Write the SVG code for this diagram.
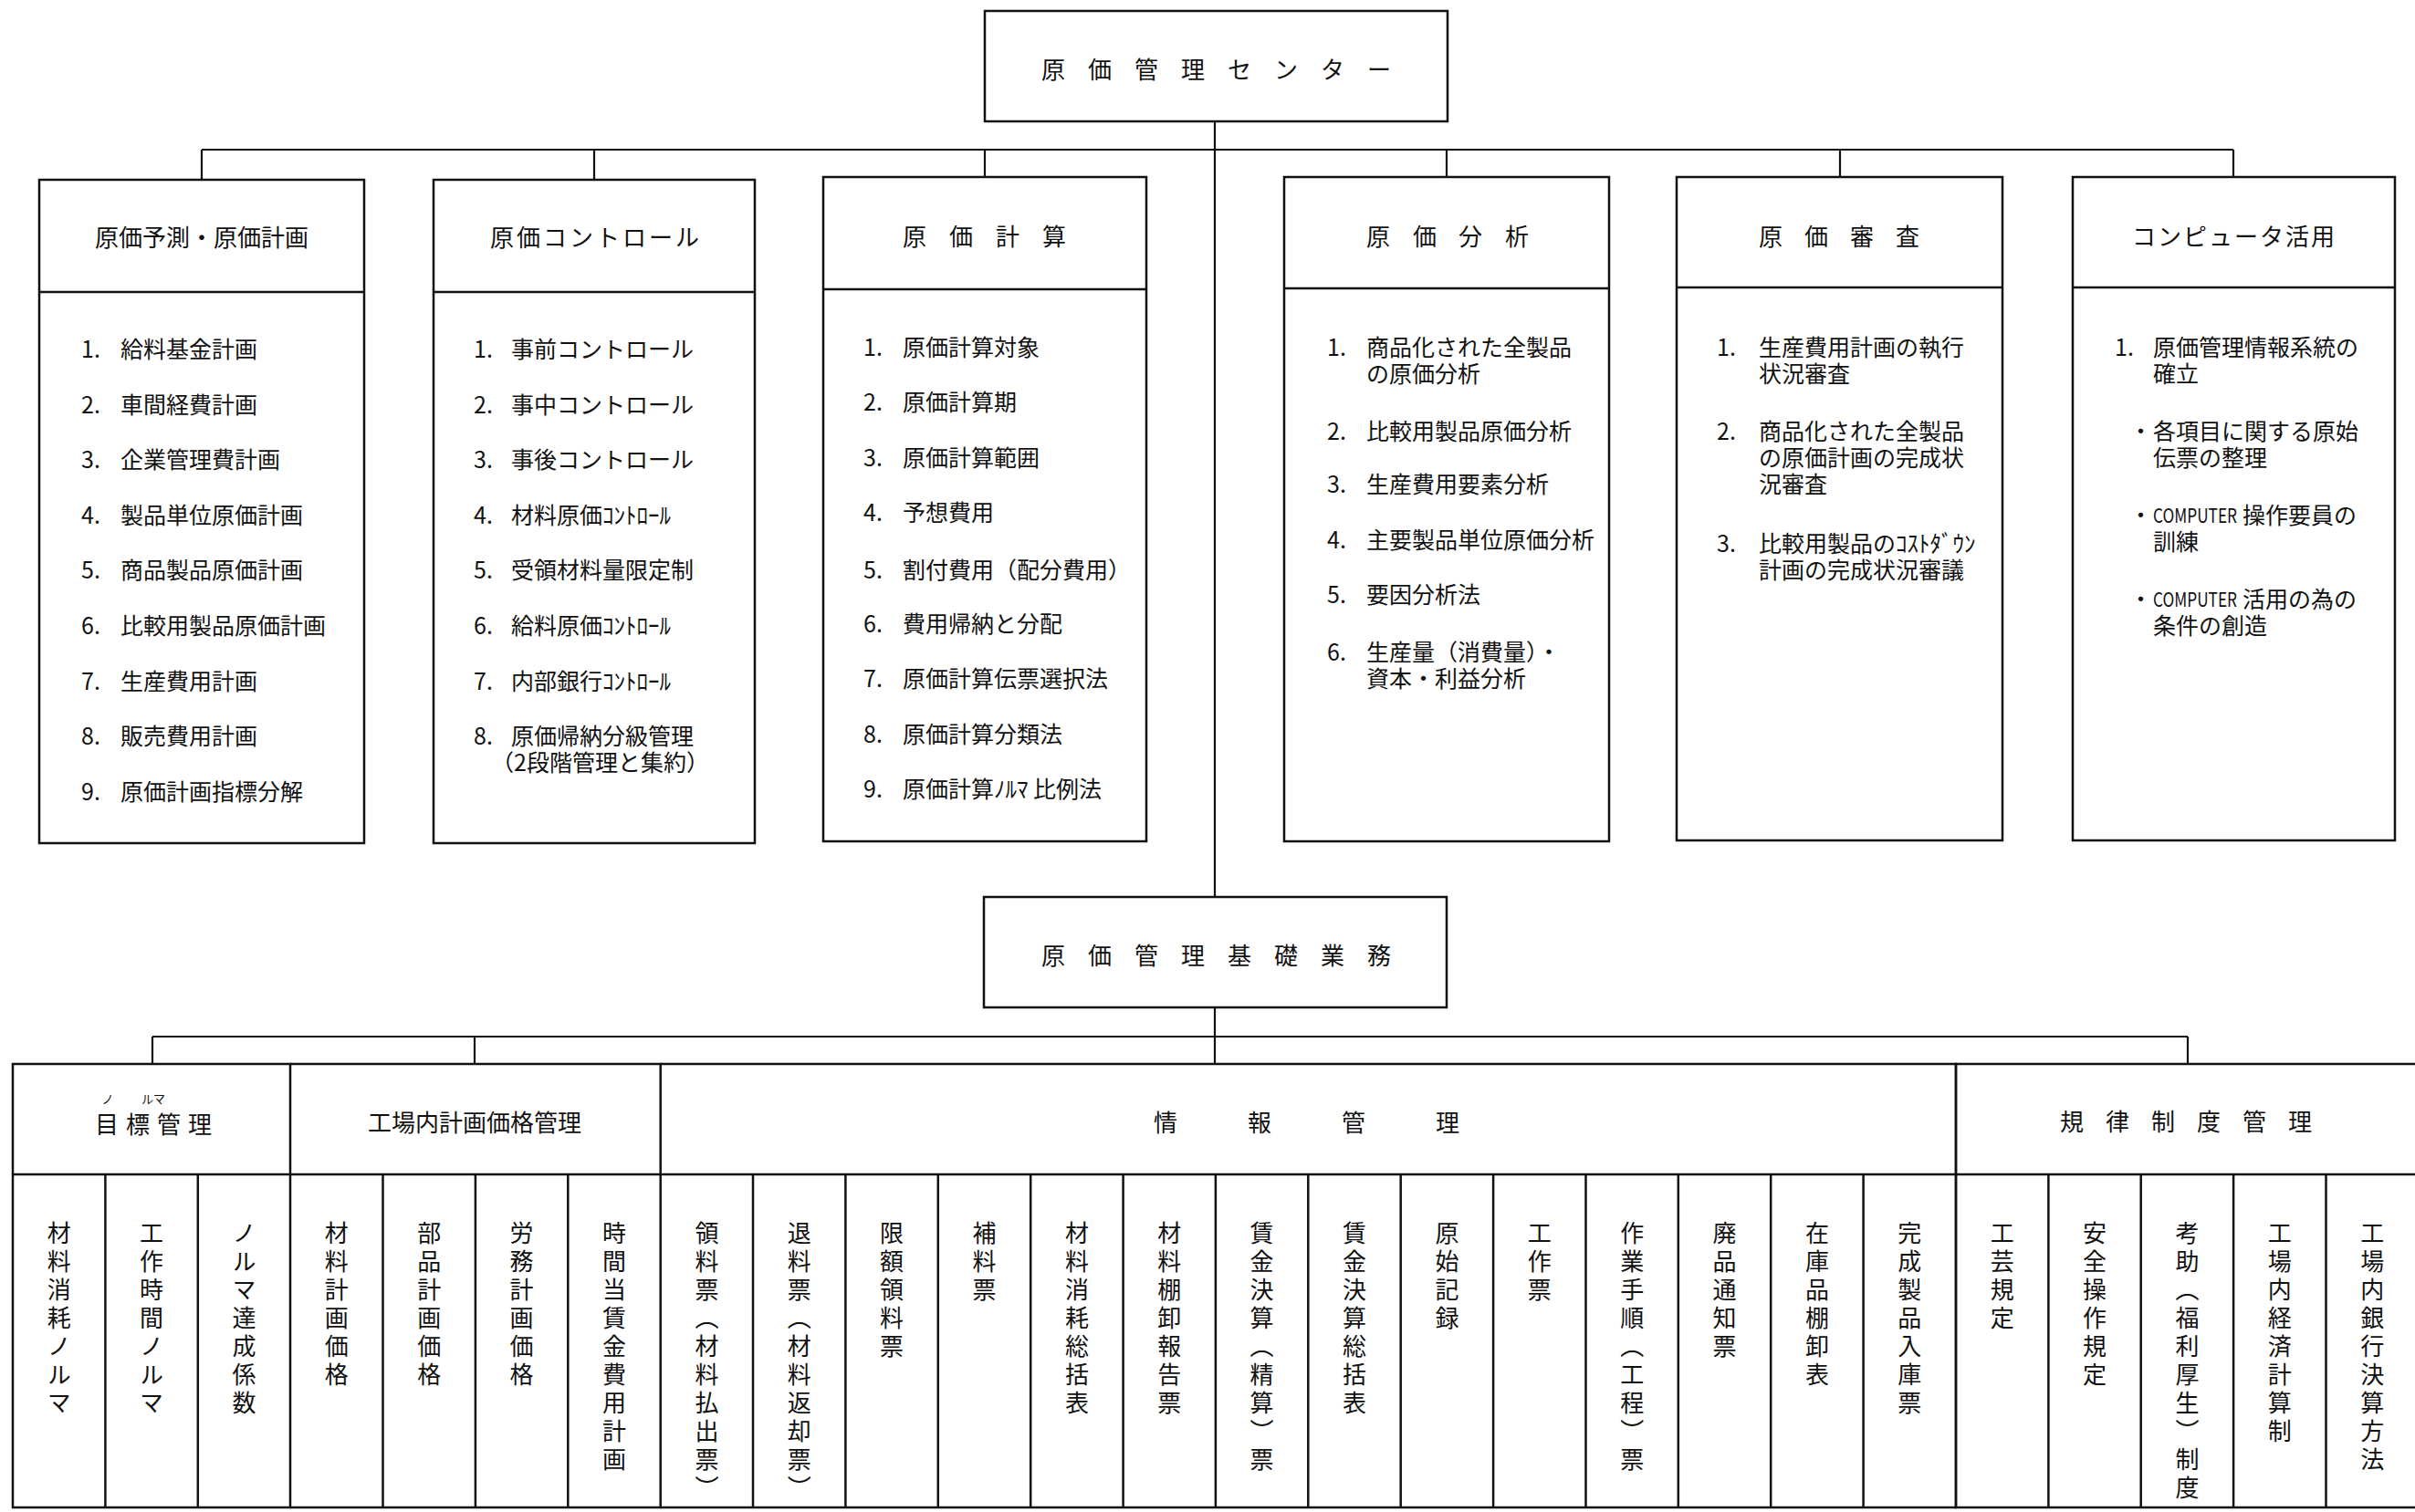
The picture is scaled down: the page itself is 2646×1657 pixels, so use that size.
<svg xmlns="http://www.w3.org/2000/svg" width="2646" height="1657" viewBox="0 0 2646 1657">
<style>
.ln{fill:none;stroke:#111;stroke-width:2.5}
.cn{fill:none;stroke:#111;stroke-width:2.2}
text{font-family:"Noto Sans CJK JP","Noto Sans CJK SC",sans-serif;fill:#111;dominant-baseline:central}
.h{font-size:26px}
.it{font-size:25px}
.rb{font-size:13px}
.en{font-size:22px}
.v{font-size:26px;writing-mode:vertical-rl;letter-spacing:5px}
</style>
<rect width="2646" height="1657" fill="#fff"/>
<g id="connectors">
<line class="cn" x1="1331" y1="133" x2="1331" y2="983"/>
<line class="cn" x1="221" y1="164" x2="2447" y2="164"/>
<line class="cn" x1="221" y1="164" x2="221" y2="197"/>
<line class="cn" x1="651" y1="164" x2="651" y2="197"/>
<line class="cn" x1="1079" y1="164" x2="1079" y2="194"/>
<line class="cn" x1="1585" y1="164" x2="1585" y2="194"/>
<line class="cn" x1="2016" y1="164" x2="2016" y2="194"/>
<line class="cn" x1="2447" y1="164" x2="2447" y2="194"/>
<line class="cn" x1="1331" y1="1104" x2="1331" y2="1166"/>
<line class="cn" x1="167" y1="1136" x2="2397" y2="1136"/>
<line class="cn" x1="167" y1="1136" x2="167" y2="1166"/>
<line class="cn" x1="520" y1="1136" x2="520" y2="1166"/>
<line class="cn" x1="2397" y1="1136" x2="2397" y2="1166"/>
</g>
<g id="n-center">
<rect class="ln" x="1079" y="12" width="507" height="121"/>
<text class="h" x="1154 1205 1256 1307 1358 1409 1460 1511" y="74" text-anchor="middle">原価管理センター</text>
</g>
<g id="n-keikaku">
<rect class="ln" x="43" y="197" width="356" height="727"/>
<line class="ln" x1="43" y1="320" x2="399" y2="320"/>
<text class="h" x="221" y="258" text-anchor="middle">原価予測・原価計画</text>
<g class="it">
<text y="381"><tspan x="89">1.</tspan><tspan x="132">給料基金計画</tspan></text>
<text y="442"><tspan x="89">2.</tspan><tspan x="132">車間経費計画</tspan></text>
<text y="502"><tspan x="89">3.</tspan><tspan x="132">企業管理費計画</tspan></text>
<text y="563"><tspan x="89">4.</tspan><tspan x="132">製品単位原価計画</tspan></text>
<text y="623"><tspan x="89">5.</tspan><tspan x="132">商品製品原価計画</tspan></text>
<text y="684"><tspan x="89">6.</tspan><tspan x="132">比較用製品原価計画</tspan></text>
<text y="745"><tspan x="89">7.</tspan><tspan x="132">生産費用計画</tspan></text>
<text y="805"><tspan x="89">8.</tspan><tspan x="132">販売費用計画</tspan></text>
<text y="866"><tspan x="89">9.</tspan><tspan x="132">原価計画指標分解</tspan></text>
</g>
</g>
<g id="n-control">
<rect class="ln" x="475" y="197" width="352" height="727"/>
<line class="ln" x1="475" y1="320" x2="827" y2="320"/>
<text class="h" x="653" y="258" text-anchor="middle" letter-spacing="3">原価コントロール</text>
<g class="it">
<text y="381"><tspan x="519">1.</tspan><tspan x="560">事前コントロール</tspan></text>
<text y="442"><tspan x="519">2.</tspan><tspan x="560">事中コントロール</tspan></text>
<text y="502"><tspan x="519">3.</tspan><tspan x="560">事後コントロール</tspan></text>
<text y="563"><tspan x="519">4.</tspan><tspan x="560">材料原価ｺﾝﾄﾛｰﾙ</tspan></text>
<text y="623"><tspan x="519">5.</tspan><tspan x="560">受領材料量限定制</tspan></text>
<text y="684"><tspan x="519">6.</tspan><tspan x="560">給料原価ｺﾝﾄﾛｰﾙ</tspan></text>
<text y="745"><tspan x="519">7.</tspan><tspan x="560">内部銀行ｺﾝﾄﾛｰﾙ</tspan></text>
<text y="805"><tspan x="519">8.</tspan><tspan x="560">原価帰納分級管理</tspan></text>
<text y="834" x="538">（2段階管理と集約）</text>
</g>
</g>
<g id="n-keisan">
<rect class="ln" x="902" y="194" width="354" height="728"/>
<line class="ln" x1="902" y1="317" x2="1256" y2="317"/>
<text class="h" x="1002 1053 1104 1155" y="257" text-anchor="middle">原価計算</text>
<g class="it">
<text y="379"><tspan x="946">1.</tspan><tspan x="989">原価計算対象</tspan></text>
<text y="439"><tspan x="946">2.</tspan><tspan x="989">原価計算期</tspan></text>
<text y="500"><tspan x="946">3.</tspan><tspan x="989">原価計算範囲</tspan></text>
<text y="560"><tspan x="946">4.</tspan><tspan x="989">予想費用</tspan></text>
<text y="623"><tspan x="946">5.</tspan><tspan x="989">割付費用（配分費用）</tspan></text>
<text y="682"><tspan x="946">6.</tspan><tspan x="989">費用帰納と分配</tspan></text>
<text y="742"><tspan x="946">7.</tspan><tspan x="989">原価計算伝票選択法</tspan></text>
<text y="803"><tspan x="946">8.</tspan><tspan x="989">原価計算分類法</tspan></text>
<text y="863"><tspan x="946">9.</tspan><tspan x="989">原価計算ﾉﾙﾏ 比例法</tspan></text>
</g>
</g>
<g id="n-bunseki">
<rect class="ln" x="1407" y="194" width="356" height="728"/>
<line class="ln" x1="1407" y1="316" x2="1763" y2="316"/>
<text class="h" x="1510 1561 1611 1662" y="257" text-anchor="middle">原価分析</text>
<g class="it">
<text y="379"><tspan x="1454">1.</tspan><tspan x="1497">商品化された全製品</tspan></text>
<text y="408" x="1497">の原価分析</text>
<text y="471"><tspan x="1454">2.</tspan><tspan x="1497">比較用製品原価分析</tspan></text>
<text y="529"><tspan x="1454">3.</tspan><tspan x="1497">生産費用要素分析</tspan></text>
<text y="590"><tspan x="1454">4.</tspan><tspan x="1497">主要製品単位原価分析</tspan></text>
<text y="650"><tspan x="1454">5.</tspan><tspan x="1497">要因分析法</tspan></text>
<text y="713"><tspan x="1454">6.</tspan><tspan x="1497">生産量（消費量）・</tspan></text>
<text y="742" x="1497">資本・利益分析</text>
</g>
</g>
<g id="n-shinsa">
<rect class="ln" x="1837" y="194" width="357" height="727"/>
<line class="ln" x1="1837" y1="315" x2="2194" y2="315"/>
<text class="h" x="1940 1990 2040 2090" y="257" text-anchor="middle">原価審査</text>
<g class="it">
<text y="379"><tspan x="1881">1.</tspan><tspan x="1927">生産費用計画の執行</tspan></text>
<text y="408" x="1927">状況審査</text>
<text y="471"><tspan x="1881">2.</tspan><tspan x="1927">商品化された全製品</tspan></text>
<text y="500" x="1927">の原価計画の完成状</text>
<text y="529" x="1927">況審査</text>
<text y="594"><tspan x="1881">3.</tspan><tspan x="1927">比較用製品のｺｽﾄﾀﾞｳﾝ</tspan></text>
<text y="623" x="1927">計画の完成状況審議</text>
</g>
</g>
<g id="n-computer">
<rect class="ln" x="2271" y="194" width="353" height="727"/>
<line class="ln" x1="2271" y1="315" x2="2624" y2="315"/>
<text class="h" x="2448" y="257" text-anchor="middle" letter-spacing="2">コンピュータ活用</text>
<g class="it">
<text y="379"><tspan x="2317">1.</tspan><tspan x="2359">原価管理情報系統の</tspan></text>
<text y="408" x="2359">確立</text>
<text y="471"><tspan x="2333">・</tspan><tspan x="2359">各項目に関する原始</tspan></text>
<text y="500" x="2359">伝票の整理</text>
<text y="563"><tspan x="2333">・</tspan><tspan x="2359" class="en" textLength="92" lengthAdjust="spacingAndGlyphs">COMPUTER</tspan><tspan x="2457">操作要員の</tspan></text>
<text y="592" x="2359">訓練</text>
<text y="655"><tspan x="2333">・</tspan><tspan x="2359" class="en" textLength="92" lengthAdjust="spacingAndGlyphs">COMPUTER</tspan><tspan x="2457">活用の為の</tspan></text>
<text y="684" x="2359">条件の創造</text>
</g>
</g>
<g id="n-kiso">
<rect class="ln" x="1078" y="983" width="507" height="121"/>
<text class="h" x="1154 1205 1256 1307 1358 1409 1460 1511" y="1045" text-anchor="middle">原価管理基礎業務</text>
</g>
<g id="n-mokuhyo">
<path class="ln" d="M14 1166H318V1652H14Z M14 1287H318 M115.4 1287V1652 M216.8 1287V1652"/>
<text class="rb" x="118" y="1203" text-anchor="middle">ノ</text>
<text class="rb" x="168" y="1203" text-anchor="middle">ルマ</text>
<text class="h" x="117 151 185 219" y="1230" text-anchor="middle">目標管理</text>
<text class="v" x="64.7" y="1338">材料消耗ノルマ</text>
<text class="v" x="166.1" y="1338">工作時間ノルマ</text>
<text class="v" x="267.5" y="1338">ノルマ達成係数</text>
</g>
<g id="n-kojo">
<path class="ln" d="M318 1166H723.7V1652H318 M318 1287H723.7 M419.5 1287V1652 M520.9 1287V1652 M622.3 1287V1652"/>
<text class="h" x="520" y="1228" text-anchor="middle">工場内計画価格管理</text>
<text class="v" x="368.8" y="1338">材料計画価格</text>
<text class="v" x="470.2" y="1338">部品計画価格</text>
<text class="v" x="571.6" y="1338">労務計画価格</text>
<text class="v" x="673" y="1338">時間当賃金費用計画</text>
</g>
<g id="n-joho">
<path class="ln" d="M723.7 1166H2143V1652H723.7 M723.7 1287H2143 M825 1287V1652 M926.4 1287V1652 M1027.8 1287V1652 M1129.2 1287V1652 M1230.6 1287V1652 M1331.9 1287V1652 M1433.3 1287V1652 M1534.7 1287V1652 M1636.1 1287V1652 M1737.5 1287V1652 M1838.8 1287V1652 M1940.2 1287V1652 M2041.6 1287V1652"/>
<text class="h" x="1277 1380 1483 1586" y="1228" text-anchor="middle">情報管理</text>
<text class="v" x="774.4" y="1338">領料票（材料払出票）</text>
<text class="v" x="875.7" y="1338">退料票（材料返却票）</text>
<text class="v" x="977.1" y="1338">限額領料票</text>
<text class="v" x="1078.5" y="1338">補料票</text>
<text class="v" x="1179.9" y="1338">材料消耗総括表</text>
<text class="v" x="1281.3" y="1338">材料棚卸報告票</text>
<text class="v" x="1382.6" y="1338">賃金決算（精算）票</text>
<text class="v" x="1484" y="1338">賃金決算総括表</text>
<text class="v" x="1585.4" y="1338">原始記録</text>
<text class="v" x="1686.8" y="1338">工作票</text>
<text class="v" x="1788.2" y="1338">作業手順（工程）票</text>
<text class="v" x="1889.5" y="1338">廃品通知票</text>
<text class="v" x="1990.9" y="1338">在庫品棚卸表</text>
<text class="v" x="2092.3" y="1338">完成製品入庫票</text>
</g>
<g id="n-kiritsu">
<path class="ln" d="M2143 1166H2652V1652H2143Z M2143 1287H2652 M2244.4 1287V1652 M2345.7 1287V1652 M2447.1 1287V1652 M2548.5 1287V1652"/>
<text class="h" x="2270 2320 2370 2420 2470 2520" y="1227" text-anchor="middle">規律制度管理</text>
<text class="v" x="2193.7" y="1338">工芸規定</text>
<text class="v" x="2295.1" y="1338">安全操作規定</text>
<text class="v" x="2396.4" y="1338">考助（福利厚生）制度</text>
<text class="v" x="2497.8" y="1338">工場内経済計算制</text>
<text class="v" x="2599.2" y="1338">工場内銀行決算方法</text>
</g>
</svg>
